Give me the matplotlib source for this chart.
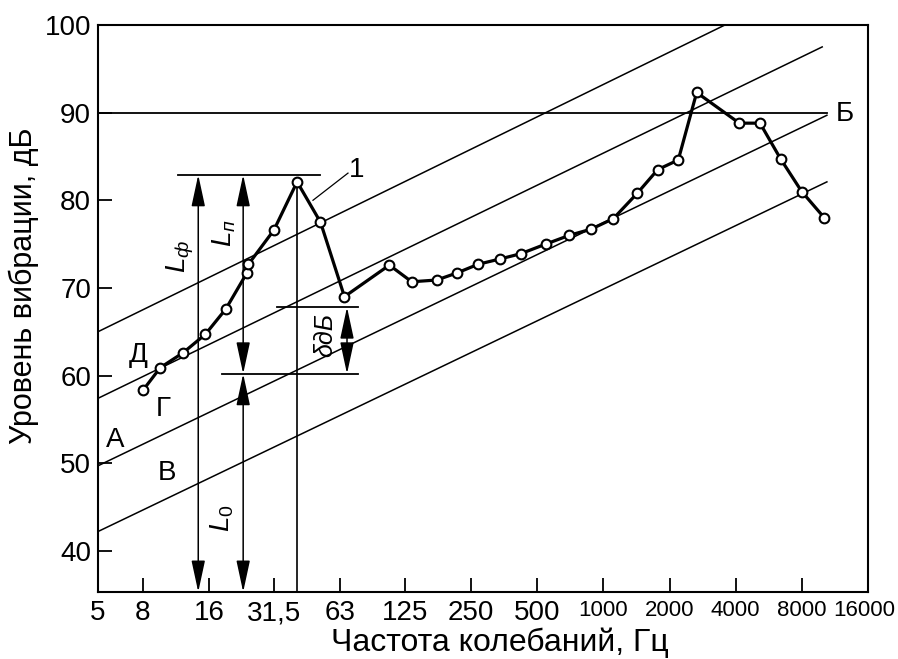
import numpy as np
import matplotlib.pyplot as plt
import matplotlib.transforms as mtransforms
from matplotlib.ticker import NullLocator

plt.rcParams['font.family'] = ['Liberation Sans', 'DejaVu Sans']
plt.rcParams['mathtext.fontset'] = 'custom'
plt.rcParams['mathtext.rm'] = 'Liberation Sans'
plt.rcParams['mathtext.it'] = 'Liberation Sans:italic'

#%% Data

freq = [8.0, 9.6, 12.2, 15.4, 19.1, 23.8, 24.2, 31.6, 40.3, 51.5, 66.2,
        106, 134, 174, 215, 269, 338, 420, 546, 699, 877,
        1108, 1425, 1766, 2190, 2656, 4153, 5159, 6409, 7985, 10120]
level = [58.3, 60.9, 62.6, 64.7, 67.6, 71.7, 72.7, 76.6, 82.1, 77.5, 69.0,
         72.6, 70.7, 70.9, 71.7, 72.7, 73.3, 73.9, 75.0, 76.0, 76.7,
         77.9, 80.8, 83.5, 84.6, 92.3, 88.8, 88.8, 84.7, 81.0, 78.0]

tick_freq = [5, 8, 16, 31.5, 63, 125, 250, 500, 1000, 2000, 4000, 8000, 16000]
tick_text = ['5', '8', '16', '31,5', '63', '125', '250', '500',
             '1000', '2000', '4000', '8000', '16000']
ytick_val = [40, 50, 60, 70, 80, 90, 100]

# sloped reference lines (start / end points)
slope_f0 = [5, 5, 5, 5]
slope_l0 = [65.0, 57.4, 49.7, 42.2]
slope_f1 = [3570, 9900, 10400, 10400]
slope_l1 = [100.0, 97.5, 89.7, 82.1]

# horizontal line Б
b_level = 90
b_f_end = 10400

# dimension lines
l_full = 82.9      # top of Lф / Lп
l_back = 60.2      # background level
l_min = 67.8       # upper end of δ
f_lf = 14.3
f_lp = 22.9
f_delta = 68.0
top_line_f = [11.6, 51.2]
mid_line_f = [32.6, 76.3]
bg_line_f = [18.3, 76.3]

letters = ['Д', 'Г', 'А', 'В', 'Б']
letter_f = [7.6, 9.9, 6.0, 10.3, 12600]
letter_l = [62.3, 56.2, 52.6, 48.9, 89.9]

#%% Figure

fig = plt.figure(figsize=(8.98, 6.59), dpi=100)
ax = fig.add_axes([98/898, 1-592/659, 770/898, 567/659])
ax.set_xscale('log')
ax.set_xlim(5, 16000)
ax.set_ylim(35.3, 100)

for f0, l0, f1, l1 in zip(slope_f0, slope_l0, slope_f1, slope_l1):
    ax.plot([f0, f1], [l0, l1], color='black', lw=1.1)

ax.plot([5, b_f_end], [b_level, b_level], color='black', lw=1.3)

# horizontal dimension lines
ax.plot(top_line_f, [l_full, l_full], color='black', lw=1.3)
ax.plot(mid_line_f, [l_min, l_min], color='black', lw=1.3)
ax.plot(bg_line_f, [l_back, l_back], color='black', lw=1.3)

# vertical line at the peak
ax.plot([freq[8], freq[8]], [level[8], 35.3], color='black', lw=1.2)

def dim_arrow(f, y0, y1):
    ax.annotate('', xy=(f, y1), xytext=(f, y0),
                arrowprops=dict(arrowstyle='<|-|>,head_length=1.3,head_width=0.28',
                                color='black', lw=1.1, shrinkA=0, shrinkB=0,
                                mutation_scale=15))

dim_arrow(f_lf, 35.3, l_full)
dim_arrow(f_lp, l_back, l_full)
dim_arrow(f_lp, 35.3, l_back)
dim_arrow(f_delta, l_back, l_min)

# spectrum
ax.plot(freq, level, '-o', color='black', lw=2.3, ms=7, mfc='white', mew=1.5, zorder=5)

# leader for "1"
ax.plot([47.6, 68.7], [80.0, 83.1], color='black', lw=0.9)
ax.text(75, 83.5, '1', fontsize=20, ha='center', va='center')

for t, f, l in zip(letters, letter_f, letter_l):
    ax.text(f, l, t, fontsize=20, ha='center', va='center')

ax.text(11.9, 73.6, r'$L_ф$', fontsize=20, rotation=90, ha='center', va='center')
ax.text(18.7, 76.2, r'$L_п$', fontsize=20, rotation=90, ha='center', va='center')
ax.text(18.3, 43.7, r'$L_0$', fontsize=20, rotation=90, ha='center', va='center')
ax.text(54.0, 64.6, 'δдБ', fontsize=18, style='italic', rotation=90, ha='center', va='center')

ax.set_xticks(tick_freq)
ax.set_xticklabels(tick_text)
ax.xaxis.set_minor_locator(NullLocator())
ax.set_yticks(ytick_val)
ax.tick_params(direction='in', length=10, width=1.3, labelsize=20, pad=6)
ax.tick_params(axis='y', pad=5)
xlabs = ax.get_xticklabels()
for lab in xlabs[8:]:
    lab.set_fontsize(16)
# keep the last label inside the figure
xlabs[-1].set_transform(xlabs[-1].get_transform() +
                        mtransforms.ScaledTranslation(-4/100, 0, fig.dpi_scale_trans))
for s in ax.spines.values():
    s.set_linewidth(1.5)

ax.set_xlabel('Частота колебаний, Гц', fontsize=23)
ax.set_ylabel('Уровень вибрации, дБ', fontsize=22)
ax.xaxis.set_label_coords(0.522, -0.062)
ax.yaxis.set_label_coords(-0.076, 0.541)

fig.savefig('out.png', dpi=100)
